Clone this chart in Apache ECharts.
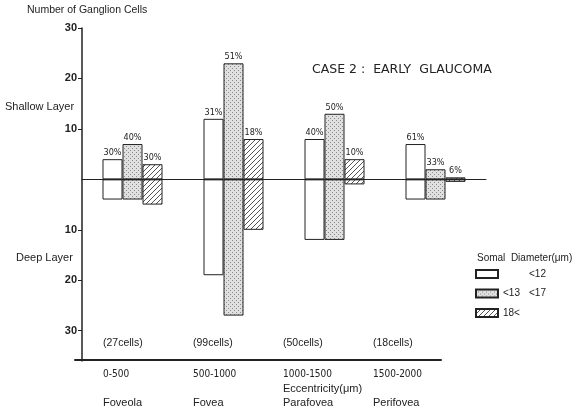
<!DOCTYPE html>
<html>
<head>
<meta charset="utf-8">
<script src="https://cdn.jsdelivr.net/npm/echarts@6/dist/echarts.min.js"></script>
<style>
  html, body { margin: 0; padding: 0; background: #ffffff; }
  #chart { width: 577px; height: 414px; }
</style>
</head>
<body>
<div id="chart"></div>
<script>
// Retinal regions and their eccentricity ranges
const categories = ['Foveola', 'Fovea', 'Parafovea', 'Perifovea'];
const eccentricityLabels = ['0-500', '500-1000', '1000-1500', '1500-2000'];
const cellCountLabels = ['(27cells)', '(99cells)', '(50cells)', '(18cells)'];

// Ganglion cell counts per somal diameter class:
// shallow layer drawn upward, deep layer drawn downward
const smallShallow = [4, 12, 8, 7];
const smallDeep = [4, 19, 12, 4];
const mediumShallow = [7, 23, 13, 2];
const mediumDeep = [4, 27, 12, 4];
const largeShallow = [3, 8, 4, 0.4];
const largeDeep = [5, 10, 1, 0.5];

// Share of each class within a region (%)
const smallPct = [30, 31, 40, 61];
const mediumPct = [40, 51, 50, 33];
const largePct = [30, 18, 10, 6];

const classNames = ['<12', '<13  <17', '18<'];
const yTickValues = [-30, -20, -10, 10, 20, 30];

const INK = '#222222';
const SANS = '"Liberation Sans", Arial, sans-serif';
const NARROW = '"Liberation Sans Narrow", "DejaVu Sans Condensed", "Liberation Sans", sans-serif';

// Fine stipple fill
function dotPattern() {
  const c = document.createElement('canvas');
  c.width = 4; c.height = 4;
  const g = c.getContext('2d');
  g.fillStyle = '#e0e0e0';
  g.fillRect(0, 0, 4, 4);
  g.fillStyle = '#8a8a8a';
  g.fillRect(0, 0, 1, 1);
  g.fillRect(2, 2, 1, 1);
  return { image: c, repeat: 'repeat' };
}

// Diagonal hatch fill
function hatchPattern() {
  const s = 5;
  const c = document.createElement('canvas');
  c.width = s; c.height = s;
  const g = c.getContext('2d');
  g.fillStyle = '#ffffff';
  g.fillRect(0, 0, s, s);
  g.strokeStyle = '#555555';
  g.lineWidth = 1;
  g.beginPath();
  g.moveTo(-1, s + 1); g.lineTo(s + 1, -1);
  g.moveTo(-1, 1); g.lineTo(1, -1);
  g.moveTo(s - 1, s + 1); g.lineTo(s + 1, s - 1);
  g.stroke();
  return { image: c, repeat: 'repeat' };
}

// One diameter class = an upward (shallow) and a downward (deep) bar in one stack
function barPair(name, shallow, deep, pct, fill) {
  const common = {
    type: 'bar',
    name: name,
    stack: name,
    xAxisIndex: 0,
    yAxisIndex: 0,
    barWidth: 20,
    barGap: '0%',
    itemStyle: { color: fill, borderColor: INK, borderWidth: 1 },
    emphasis: { disabled: true }
  };
  return [
    Object.assign({}, common, {
      data: shallow,
      label: {
        show: true,
        position: 'top',
        distance: 2,
        formatter: p => pct[p.dataIndex] + '%',
        fontFamily: NARROW,
        fontSize: 9,
        color: INK
      }
    }),
    Object.assign({}, common, { data: deep.map(v => -v) })
  ];
}

function legendText(name) {
  const parts = name.split(/\s+/);
  if (parts.length > 1) return '{a|' + parts[0] + '}{b|' + parts[1] + '}';
  if (name.charAt(0) === '<') return '{r|' + name + '}';
  return '{a|' + name + '}';
}

const chart = echarts.init(document.getElementById('chart'), null, { renderer: 'canvas' });

const option = {
  animation: false,
  backgroundColor: '#ffffff',
  textStyle: { fontFamily: SANS, color: INK },
  title: [
    { text: 'Number of Ganglion Cells', left: 27, top: 5, padding: 0,
      textStyle: { fontFamily: SANS, fontSize: 10.5, fontWeight: 'normal', color: INK } },
    { text: 'Shallow Layer', left: 5, top: 101, padding: 0,
      textStyle: { fontFamily: SANS, fontSize: 11, fontWeight: 'normal', color: INK } },
    { text: 'Deep Layer', left: 16, top: 252, padding: 0,
      textStyle: { fontFamily: SANS, fontSize: 11, fontWeight: 'normal', color: INK } },
    { text: 'CASE 2 :  EARLY  GLAUCOMA', left: 312, top: 63, padding: 0,
      textStyle: { fontFamily: '"DejaVu Sans", sans-serif', fontSize: 12.5, fontWeight: 'normal', color: INK } },
    { text: 'Eccentricity(\u03bcm)', left: 283, top: 383, padding: 0,
      textStyle: { fontFamily: SANS, fontSize: 11, fontWeight: 'normal', color: INK } },
    { text: 'Somal  Diameter(\u03bcm)', left: 477, top: 253, padding: 0,
      textStyle: { fontFamily: SANS, fontSize: 10, fontWeight: 'normal', color: INK } }
  ],
  legend: {
    data: classNames,
    orient: 'vertical',
    left: 475,
    top: 269,
    padding: 0,
    itemWidth: 22,
    itemHeight: 8,
    itemGap: 9.5,
    icon: 'rect',
    selectedMode: false,
    formatter: legendText,
    textStyle: {
      fontFamily: SANS,
      fontSize: 10,
      color: INK,
      rich: {
        a: { width: 26, fontFamily: SANS, fontSize: 10, color: INK },
        b: { fontFamily: SANS, fontSize: 10, color: INK },
        r: { padding: [0, 0, 0, 26], fontFamily: SANS, fontSize: 10, color: INK }
      }
    }
  },
  grid: [
    // plotting area
    { left: 82, right: 91, top: 28, bottom: 53, containLabel: false },
    // baseline under the chart
    { left: 75, right: 136, top: 28, bottom: 54, containLabel: false },
    // region captions
    { left: 58, right: 159, top: 28, bottom: 54, containLabel: false }
  ],
  xAxis: [
    {
      type: 'category',
      gridIndex: 0,
      position: 'bottom',
      data: categories,
      z: 5,
      axisLine: { show: true, onZero: true, lineStyle: { color: INK, width: 1 } },
      axisTick: { show: false },
      axisLabel: { show: false },
      splitLine: { show: false }
    },
    {
      type: 'category',
      gridIndex: 1,
      position: 'bottom',
      data: categories,
      axisLine: { show: true, onZero: false, lineStyle: { color: INK, width: 2 } },
      axisTick: { show: false },
      axisLabel: { show: false },
      splitLine: { show: false }
    },
    {
      type: 'category',
      gridIndex: 2,
      position: 'bottom',
      data: eccentricityLabels,
      axisLine: { show: false, onZero: false },
      axisTick: { show: false },
      splitLine: { show: false },
      axisLabel: {
        show: true,
        align: 'left',
        margin: 7,
        interval: 0,
        lineHeight: 14.5,
        formatter: (value, index) => '{r|' + value + '}\n\n{n|' + categories[index] + '}',
        rich: {
          r: { fontFamily: NARROW, fontSize: 10, color: INK, lineHeight: 14.5 },
          n: { fontFamily: SANS, fontSize: 11, color: INK, lineHeight: 14.5 }
        }
      }
    },
    {
      type: 'category',
      gridIndex: 2,
      position: 'bottom',
      data: cellCountLabels,
      axisLine: { show: false, onZero: false },
      axisTick: { show: false },
      splitLine: { show: false },
      axisLabel: {
        show: true,
        inside: true,
        align: 'left',
        margin: 11,
        interval: 0,
        fontFamily: SANS,
        fontSize: 10.5,
        color: INK
      }
    }
  ],
  yAxis: [
    {
      type: 'value',
      gridIndex: 0,
      min: -36,
      max: 30,
      axisLine: { show: true, onZero: false, lineStyle: { color: INK, width: 1.5 } },
      axisTick: { show: true, length: 4, customValues: yTickValues, lineStyle: { color: INK, width: 1 } },
      axisLabel: {
        show: true,
        customValues: yTickValues,
        margin: 5,
        formatter: v => String(Math.abs(v)),
        fontFamily: SANS,
        fontSize: 11,
        fontWeight: 'bold',
        color: INK
      },
      splitLine: { show: false }
    },
    { type: 'value', gridIndex: 1, min: 0, max: 1, show: false },
    { type: 'value', gridIndex: 2, min: 0, max: 1, show: false }
  ],
  series: [].concat(
    barPair(classNames[0], smallShallow, smallDeep, smallPct, '#ffffff'),
    barPair(classNames[1], mediumShallow, mediumDeep, mediumPct, dotPattern()),
    barPair(classNames[2], largeShallow, largeDeep, largePct, hatchPattern())
  )
};

chart.setOption(option);
</script>
</body>
</html>
